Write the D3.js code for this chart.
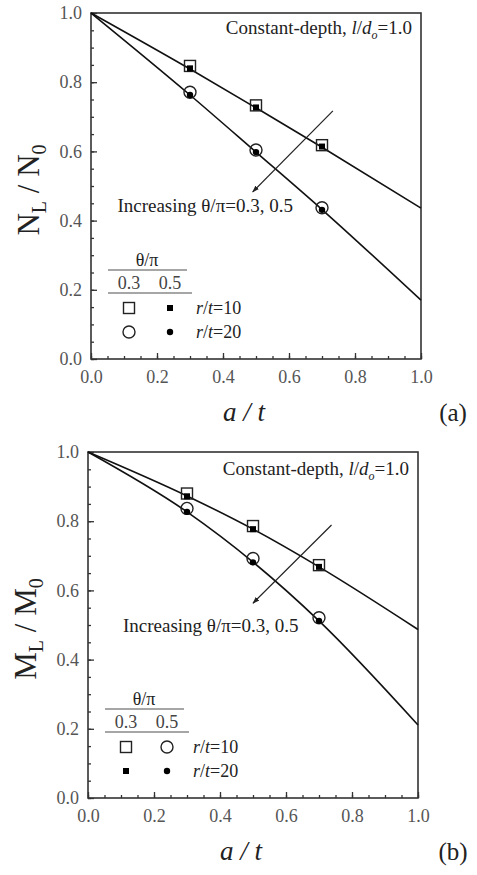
<!DOCTYPE html>
<html>
<head>
<meta charset="utf-8">
<script src="https://cdn.jsdelivr.net/npm/d3@7"></script>
<style>
body { margin: 0; background: #fff; }
text { font-family: "Liberation Serif", "Times New Roman", serif; fill: #222; }
</style>
</head>
<body>
<script>
// shared x values
var crackDepth = [0.3, 0.5, 0.7]        // a/t of the FE points
var fitX = [0, 0.3, 0.5, 0.7, 1.0]      // a/t of the fitted curves
var majorTicks = [0, 0.2, 0.4, 0.6, 0.8, 1.0]

// (a) N_L / N_0
var nFitR10 = [1.0, 0.838, 0.726, 0.612, 0.436]
var nFitR20 = [1.0, 0.763, 0.598, 0.432, 0.170]
var nSq03 = [0.847, 0.733, 0.618]
var nSq05 = [0.840, 0.727, 0.614]
var nCi03 = [0.771, 0.604, 0.437]
var nCi05 = [0.763, 0.598, 0.431]

// (b) M_L / M_0
var mFitUpper = [1.0, 0.873, 0.777, 0.668, 0.487]
var mFitLower = [1.0, 0.827, 0.682, 0.512, 0.211]
var mSqOpen = [0.880, 0.786, 0.673]
var mSqFill = [0.872, 0.777, 0.668]
var mCiOpen = [0.837, 0.692, 0.521]
var mCiFill = [0.827, 0.681, 0.512]

var width = 477
var height = 875

var svg = d3.select('body').append('svg')
    .attr('width', width)
    .attr('height', height)

svg.append('defs').append('marker')
    .attr('id', 'head')
    .attr('viewBox', '0 0 10 10')
    .attr('refX', 9).attr('refY', 5)
    .attr('markerWidth', 6).attr('markerHeight', 6)
    .attr('orient', 'auto')
  .append('path')
    .attr('d', 'M0,1.5 L10,5 L0,8.5 z')
    .attr('fill', '#222')

function marker (g, shape, filled, cx, cy) {
	if (shape === 'square') {
		var s = filled ? 6 : 11
		g.append('rect')
		    .attr('x', cx - s / 2).attr('y', cy - s / 2)
		    .attr('width', s).attr('height', s)
		    .style('fill', filled ? '#000' : 'none')
		    .style('stroke', '#222')
		    .style('stroke-width', filled ? 0 : 1.4)
	} else {
		g.append('circle')
		    .attr('cx', cx).attr('cy', cy)
		    .attr('r', filled ? 3.2 : 6)
		    .style('fill', filled ? '#000' : 'none')
		    .style('stroke', '#222')
		    .style('stroke-width', filled ? 0 : 1.4)
	}
}

function panel (p) {
	var g = svg.append('g').attr('transform', 'translate(' + p.left + ',' + p.top + ')')
	var w = 330, h = 346

	var x = d3.scaleLinear().domain([0, 1]).range([0, w])
	var y = d3.scaleLinear().domain([0, 1]).range([h, 0])

	// axes, ticks inward
	var minor = d3.range(0, 1.0001, 0.05)
	g.append('g').attr('transform', 'translate(0,' + h + ')')
	    .call(d3.axisBottom(x).tickValues(minor).tickSize(-3).tickFormat(''))
	g.append('g').attr('transform', 'translate(0,' + h + ')')
	    .call(d3.axisBottom(x).tickValues(majorTicks).tickSize(-6).tickPadding(11).tickFormat(d3.format('.1f')))
	g.append('g')
	    .call(d3.axisLeft(y).tickValues(minor).tickSize(-3).tickFormat(''))
	g.append('g')
	    .call(d3.axisLeft(y).tickValues(majorTicks).tickSize(-6).tickPadding(9).tickFormat(d3.format('.1f')))
	g.selectAll('.domain').remove()
	g.selectAll('.tick line').style('stroke', '#333').style('stroke-width', 1.3)
	g.selectAll('.tick text').style('font-size', '18px').style('fill', '#555')
	    .style('font-family', '"Liberation Serif", serif')

	g.append('rect').attr('width', w).attr('height', h)
	    .style('fill', 'none').style('stroke', '#333').style('stroke-width', 1.6)

	// fitted curves
	var line = d3.line()
	    .x(function (d) { return x(d[0]) })
	    .y(function (d) { return y(d[1]) })
	    .curve(d3.curveMonotoneX)
	p.fits.forEach(function (f) {
		g.append('path')
		    .datum(fitX.map(function (v, i) { return [v, f[i]] }))
		    .attr('d', line)
		    .style('fill', 'none').style('stroke', '#111').style('stroke-width', 1.6)
	})

	// points (open first, filled on top)
	p.points.forEach(function (s) {
		s.vals.forEach(function (v, i) {
			marker(g, s.shape, s.filled, x(crackDepth[i]), y(v))
		})
	})

	// arrow
	g.append('line')
	    .attr('x1', x(p.arrow[0])).attr('y1', y(p.arrow[1]))
	    .attr('x2', x(p.arrow[2])).attr('y2', y(p.arrow[3]))
	    .style('stroke', '#222').style('stroke-width', 1.2)
	    .attr('marker-end', 'url(#head)')

	// annotations
	var t1 = g.append('text').attr('x', w - 9).attr('y', p.constY)
	    .attr('text-anchor', 'end').style('font-size', '19px')
	t1.append('tspan').text('Constant-depth, ')
	t1.append('tspan').style('font-style', 'italic').text('l')
	t1.append('tspan').text('/')
	t1.append('tspan').style('font-style', 'italic').text('d')
	t1.append('tspan').style('font-style', 'italic').style('font-size', '12px').attr('dy', 5).text('o')
	t1.append('tspan').attr('dy', -5).text('=1.0')

	g.append('text').attr('x', x(p.incr[0])).attr('y', y(p.incr[1]))
	    .style('font-size', '19px').text('Increasing θ/π=0.3, 0.5')

	// legend
	var lg = g.append('g')
	lg.append('text').attr('x', 56).attr('y', 253).attr('text-anchor', 'middle')
	    .style('font-size', '18px').text('θ/π')
	lg.append('line').attr('x1', 17).attr('x2', 96).attr('y1', 257).attr('y2', 257)
	    .style('stroke', '#888').style('stroke-width', 1.3)
	lg.append('text').attr('x', 38).attr('y', 276).attr('text-anchor', 'middle')
	    .style('font-size', '18px').style('fill', '#444').text('0.3')
	lg.append('text').attr('x', 79).attr('y', 276).attr('text-anchor', 'middle')
	    .style('font-size', '18px').style('fill', '#444').text('0.5')
	lg.append('line').attr('x1', 17).attr('x2', 101).attr('y1', 280).attr('y2', 280)
	    .style('stroke', '#888').style('stroke-width', 1.3)
	p.legend.forEach(function (row, r) {
		var ry = 295 + r * 24
		marker(lg, row[0][0], row[0][1], 38, ry)
		marker(lg, row[1][0], row[1][1], 79, ry)
		var t = lg.append('text').attr('x', 105).attr('y', ry + 6).style('font-size', '18px')
		t.append('tspan').style('font-style', 'italic').text('r')
		t.append('tspan').text('/')
		t.append('tspan').style('font-style', 'italic').text('t')
		t.append('tspan').text('=' + row[2])
	})

	// axis titles
	svg.append('text').attr('x', p.left + w / 2 - 12).attr('y', p.top + h + 62)
	    .attr('text-anchor', 'middle').style('font-size', '27px').style('font-style', 'italic')
	    .text('a / t')
	svg.append('text').attr('x', 453).attr('y', p.top + h + 62)
	    .attr('text-anchor', 'middle').style('font-size', '25px').text(p.tag)

	var yt = svg.append('text')
	    .attr('transform', 'translate(' + (p.left - 52) + ',' + (p.top + h / 2 + 4) + ') rotate(-90)')
	    .attr('text-anchor', 'middle').style('font-size', '31px')
	yt.append('tspan').text(p.ylab)
	yt.append('tspan').style('font-size', '20px').attr('dy', 7).text('L')
	yt.append('tspan').attr('dy', -7).text(' / ' + p.ylab)
	yt.append('tspan').style('font-size', '20px').attr('dy', 7).text('0')
}

panel({
	left: 91, top: 13, tag: '(a)', ylab: 'N',
	fits: [nFitR10, nFitR20],
	points: [
		{ vals: nSq03, shape: 'square', filled: false },
		{ vals: nCi03, shape: 'circle', filled: false },
		{ vals: nSq05, shape: 'square', filled: true },
		{ vals: nCi05, shape: 'circle', filled: true }
	],
	arrow: [0.733, 0.717, 0.49, 0.483],
	constY: 21, incr: [0.08, 0.425],
	legend: [[['square', false], ['square', true], '10'], [['circle', false], ['circle', true], '20']]
})

panel({
	left: 88, top: 452, tag: '(b)', ylab: 'M',
	fits: [mFitUpper, mFitLower],
	points: [
		{ vals: mSqOpen, shape: 'square', filled: false },
		{ vals: mCiOpen, shape: 'circle', filled: false },
		{ vals: mSqFill, shape: 'square', filled: true },
		{ vals: mCiFill, shape: 'circle', filled: true }
	],
	arrow: [0.738, 0.789, 0.50, 0.563],
	constY: 23, incr: [0.106, 0.48],
	legend: [[['square', false], ['circle', false], '10'], [['square', true], ['circle', true], '20']]
})
</script>
</body>
</html>
